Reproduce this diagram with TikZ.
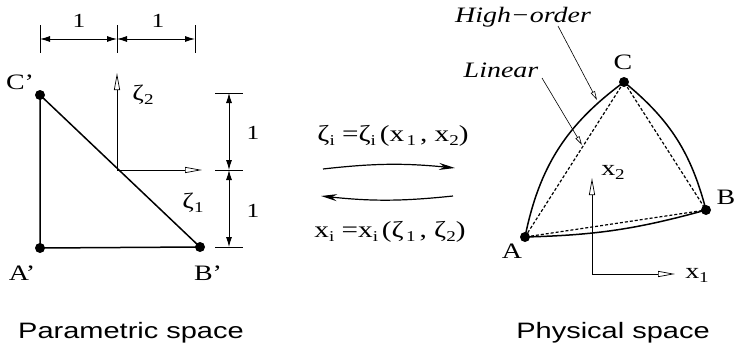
\documentclass[tikz,border=0pt]{standalone}
\usepackage{fontspec}
\setmainfont{Liberation Serif}[FakeStretch=1.27]
\setsansfont{Liberation Sans}[FakeStretch=1.3]
\usetikzlibrary{arrows.meta}
\newcommand\lsub[1]{\raisebox{-0.4ex}{\fontsize{15}{15}\selectfont #1}}
\begin{document}
\begin{tikzpicture}[x=1pt,y=1pt,
  lbl/.style={font=\fontsize{22}{24}\selectfont, inner sep=0pt},
  num/.style={font=\fontsize{20}{22}\selectfont, inner sep=0pt},
  frm/.style={font=\fontsize{23}{25}\selectfont, inner sep=0pt},
  ital/.style={font=\itshape\fontsize{22}{24}\selectfont, inner sep=0pt},
  capt/.style={font=\sffamily\fontsize{22.3}{25}\selectfont, inner sep=0pt},
  dot/.style={circle, fill=black, inner sep=0pt, minimum size=10pt},
  edge/.style={line width=1.5pt},
  dim/.style={line width=0.9pt, {Latex[length=10pt,width=6pt]}-{Latex[length=10pt,width=6pt]}},
  tick/.style={line width=0.5pt},
  axis/.style={line width=0.7pt, -{Triangle[open,length=17pt,width=6pt]}},
  lead/.style={line width=0.6pt, -{Triangle[open,length=9pt,width=4.5pt]}},
  map/.style={line width=1.2pt, -{Stealth[length=16pt,width=7pt]}},
  lin/.style={line width=1.2pt, dash pattern=on 3pt off 2pt}]
\useasboundingbox (0,0) rectangle (737,-348);
% ---------- parametric space ----------
\node[dot] (Ap) at (40,-248) {};
\node[dot] (Bp) at (200,-247) {};
\node[dot] (Cp) at (40,-95) {};
\draw[edge] (Ap.center) -- (Bp.center) -- (Cp.center) -- cycle;
\coordinate (O1) at (117,-170);
\coordinate (Z2) at (117,-73);
\coordinate (Z1) at (202,-170);
\draw[axis] (O1) -- (Z2);
\draw[axis] (O1) -- (Z1);
\node[lbl] (lz2) at (143,-95) {ζ\lsub{2}};
\node[lbl] (lz1) at (193,-203) {ζ\lsub{1}};
\node[lbl] (lCp) at (20,-82) {C’};
\node[lbl] (lAp) at (22,-273) {A’};
\node[lbl] (lBp) at (208,-273) {B’};
% top dimensions
\coordinate (t1a) at (40,-25); \coordinate (t1b) at (40,-53);
\coordinate (t2a) at (117,-25); \coordinate (t2b) at (117,-53);
\coordinate (t3a) at (195,-25); \coordinate (t3b) at (195,-53);
\draw[tick] (t1a) -- (t1b); \draw[tick] (t2a) -- (t2b); \draw[tick] (t3a) -- (t3b);
\coordinate (d1) at (40,-39); \coordinate (d2) at (117,-39); \coordinate (d3) at (195,-39);
\draw[dim] (d1) -- (d2);
\draw[dim] (d2) -- (d3);
\node[num] (n1) at (79,-21) {1};
\node[num] (n2) at (158,-21) {1};
% right dimensions
\coordinate (r1a) at (215,-93); \coordinate (r1b) at (243,-93);
\coordinate (r2a) at (215,-170); \coordinate (r2b) at (243,-170);
\coordinate (r3a) at (215,-247); \coordinate (r3b) at (243,-247);
\draw[tick] (r1a) -- (r1b); \draw[tick] (r2a) -- (r2b); \draw[tick] (r3a) -- (r3b);
\coordinate (e1) at (229,-93); \coordinate (e2) at (229,-170); \coordinate (e3) at (229,-247);
\draw[dim] (e1) -- (e2);
\draw[dim] (e2) -- (e3);
\node[num] (n3) at (253,-133) {1};
\node[num] (n4) at (253,-211) {1};
\node[capt] (cap1) at (131,-333) {Parametric space};
% ---------- mapping ----------
\node[frm] (f1) at (393,-136) {ζ\lsub{i} =ζ\lsub{i}\,(x\lsub{\,1}\,, x\lsub{2})};
\node[frm] (f2) at (390,-232) {x\lsub{i} =x\lsub{i}\,(ζ\lsub{\,1}\,, ζ\lsub{2})};
\coordinate (m1) at (323,-169); \coordinate (m2) at (455,-168);
\coordinate (m3) at (453,-196); \coordinate (m4) at (321,-196);
\draw[map] (m1) to[bend left=6] (m2);
\draw[map] (m3) to[bend left=6] (m4);
% ---------- physical space ----------
\node[dot] (A) at (525,-237) {};
\node[dot] (B) at (706,-210) {};
\node[dot] (C) at (624,-82) {};
\draw[edge] (A.center) to[bend left=21] (C.center) to[bend left=18] (B.center) to[bend left=7] (A.center);
\draw[lin] (A.center) -- (C.center) -- (B.center) -- cycle;
\node[lbl] (lA) at (512,-251) {A};
\node[lbl] (lB) at (726,-197) {B};
\node[lbl] (lC) at (623,-62) {C};
\coordinate (O2) at (592,-274);
\coordinate (X2) at (592,-178);
\coordinate (X1) at (675,-274);
\draw[axis] (O2) -- (X2);
\draw[axis] (O2) -- (X1);
\node[lbl] (lx2) at (613,-172) {x\lsub{2}};
\node[lbl] (lx1) at (697,-275) {x\lsub{1}};
\node[ital] (ho) at (523,-17) {High−order};
\node[ital] (li) at (501,-70) {Linear};
\coordinate (hoe) at (597,-100);
\coordinate (lie) at (582,-145);
\draw[lead] (558,-26) -- (hoe);
\draw[lead] (542,-78) -- (lie);
\node[capt] (cap2) at (613,-333) {Physical space};
\end{tikzpicture}
\end{document}
